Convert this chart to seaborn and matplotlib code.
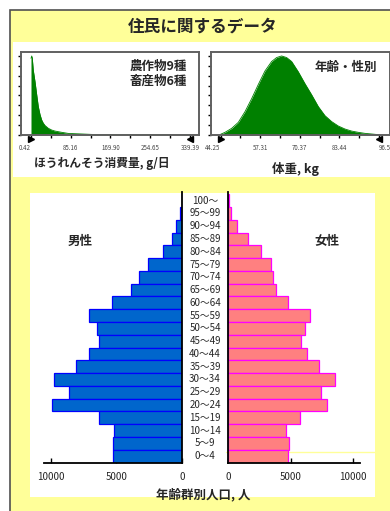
import numpy as np
import seaborn as sns
import matplotlib.pyplot as plt
from matplotlib.patches import Rectangle
from matplotlib.lines import Line2D
from matplotlib import transforms

# spinach intake curve (g/day), relative height
spin_x = [0.42, 2.0, 3.2, 5.3, 9.0, 12.6, 16.0, 19.6, 23.2, 26.6, 30.3, 37.3,
          44.5, 51.6, 65.9, 80.0, 108.5, 144.0, 200.0, 339.39]
spin_y = [0.97, 1.0, 0.97, 0.82, 0.675, 0.51, 0.36, 0.26, 0.19, 0.15, 0.12, 0.085,
          0.063, 0.05, 0.034, 0.02, 0.013, 0.004, 0.002, 0.0]
spin_ticks = [0.42, 85.16, 169.90, 254.65, 339.39]

# body weight curve (kg)
wt_x = [44.25, 45.67, 47.87, 50.07, 52.27, 54.48, 56.68, 58.88, 61.08, 62.73,
        64.38, 66.03, 67.69, 69.89, 72.09, 74.29, 76.5, 78.7, 80.9, 83.1,
        85.3, 87.5, 89.7, 91.9, 94.1, 96.56]
wt_y = [0.01, 0.034, 0.084, 0.16, 0.295, 0.46, 0.64, 0.81, 0.93, 0.98,
        1.0, 0.98, 0.93, 0.80, 0.65, 0.51, 0.36, 0.245, 0.17, 0.114,
        0.076, 0.05, 0.034, 0.021, 0.013, 0.004]
wt_ticks = [44.25, 57.31, 70.37, 83.44, 96.56]

# population pyramid, top to bottom
ages = ['100～', '95～99', '90～94', '85～89', '80～84', '75～79', '70～74',
        '65～69', '60～64', '55～59', '50～54', '45～49', '40～44', '35～39',
        '30～34', '25～29', '20～24', '15～19', '10～14', '5～9', '0～4']
male = [0, 180, 420, 780, 1420, 2620, 3300, 3870, 5320, 7120, 6490,
        6310, 7070, 8110, 9770, 8620, 9940, 6310, 5170, 5260, 5240]
female = [60, 230, 700, 1560, 2610, 3450, 3580, 3820, 4810, 6560, 6180,
          5860, 6310, 7250, 8540, 7420, 7950, 5720, 4650, 4890, 4810]

sns.set_theme(style='white')
plt.rcParams['font.family'] = ['Noto Sans CJK JP', 'DejaVu Sans']

W, H = 390, 511
fig = plt.figure(figsize=(W / 100, H / 100), dpi=100, facecolor='white')


def box(x0, y0, x1, y1):
    return [x0 / W, 1 - y1 / H, (x1 - x0) / W, (y1 - y0) / H]


def fx(x):
    return x / W


def fy(y):
    return 1 - y / H


yellow = '#FFFF99'
green = '#008000'

# background panels
fig.add_artist(Rectangle((fx(9.5), fy(530)), fx(400), fy(10) - fy(530),
                         transform=fig.transFigure, facecolor=yellow,
                         edgecolor='#505050', lw=1.2, zorder=-3))
fig.add_artist(Rectangle((fx(13), fy(177.5)), fx(395 - 13), fy(42) - fy(177.5),
                         transform=fig.transFigure, facecolor='white',
                         edgecolor='none', zorder=-2))
fig.add_artist(Rectangle((fx(30), fy(497)), fx(375 - 30), fy(193) - fy(497),
                         transform=fig.transFigure, facecolor='white',
                         edgecolor='none', zorder=-2))
fig.add_artist(Line2D([fx(226), fx(375)], [fy(452), fy(452)],
                      transform=fig.transFigure, color=yellow, lw=1, zorder=-1))

fig.text(fx(203), fy(27), '住民に関するデータ', ha='center', va='center',
         fontsize=12, fontweight='bold')


def hist_panel(ax, xs, ys, ticks, xlim, last_ha='left'):
    sns.lineplot(x=xs, y=ys, ax=ax, color=green, lw=0.6)
    ax.fill_between(xs, ys, color=green, lw=0)
    ax.set_xlim(xlim)
    ax.set_ylim(0, 1.05)
    ax.set_xticks(ticks)
    ax.set_xticklabels([f'{t:.2f}' for t in ticks])
    mids = [(a + b) / 2 for a, b in zip(ticks[:-1], ticks[1:])]
    ax.set_xticks(mids, minor=True)
    ax.set_yticks(np.linspace(0, 1, 9))
    ax.set_yticklabels([])
    ax.tick_params(axis='x', which='both', direction='out', length=2.5,
                   width=1, color='black', pad=4, labelsize=4.4,
                   labelcolor='#444444', bottom=True)
    ax.tick_params(axis='y', direction='out', length=2, width=1,
                   color='black', left=True)
    labels = ax.get_xticklabels()
    labels[0].set_ha('right')
    labels[-1].set_ha(last_ha)
    ax.set_facecolor('white')
    for s in ax.spines.values():
        s.set_color('#606060')
        s.set_linewidth(1.4)
    tr = transforms.blended_transform_factory(ax.transData, ax.transAxes)
    ax.plot([ticks[0]], [-0.05], marker='>', color='black', ms=4,
            transform=tr, clip_on=False)
    ax.plot([ticks[-1]], [-0.05], marker='<', color='black', ms=4,
            transform=tr, clip_on=False)


ax_s = fig.add_axes(box(21, 52, 199, 135))
hist_panel(ax_s, spin_x, spin_y, spin_ticks, (-20.9, 358.6), last_ha='center')
ax_s.text(0.93, 0.83, '農作物9種', transform=ax_s.transAxes, ha='right',
          va='center', fontsize=9, fontweight='bold')
ax_s.text(0.93, 0.65, '畜産物6種', transform=ax_s.transAxes, ha='right',
          va='center', fontsize=9, fontweight='bold')

ax_w = fig.add_axes(box(211, 52, 390, 135))
hist_panel(ax_w, wt_x, wt_y, wt_ticks, (41.05, 100.19))
ax_w.text(fx(377), fy(67), '年齢・性別', transform=fig.transFigure,
          ha='right', va='center', fontsize=9, fontweight='bold')

fig.text(fx(102), fy(163), 'ほうれんそう消費量, g/日', ha='center', va='center',
         fontsize=8.5, fontweight='bold')
fig.text(fx(296), fy(169), '体重, kg', ha='center', va='center',
         fontsize=9, fontweight='bold')

# population pyramid
ax_m = fig.add_axes(box(44, 192, 182, 462.5))
ax_f = fig.add_axes(box(228, 192, 360, 462.5))

sns.barplot(x=male, y=ages, orient='h', ax=ax_m, color='#0066CC',
            saturation=1, edgecolor='#0000FF', linewidth=0.9, width=1.0)
sns.barplot(x=female, y=ages, orient='h', ax=ax_f, color='#FF8080',
            saturation=1, edgecolor='#FF00FF', linewidth=0.9, width=1.0)

ax_m.set_xlim(10534, 0)
ax_f.set_xlim(0, 10560)
for ax in (ax_m, ax_f):
    ax.set_ylim(20.5, -0.68)
    ax.set_yticks([])
    ax.set_ylabel('')
    ax.set_xlabel('')
    ax.set_facecolor('none')
    ax.set_xticks([0, 5000, 10000])
    ax.set_xticklabels(['0', '5000', '10000'])
    ax.tick_params(axis='x', direction='in', length=3.5, width=1,
                   color='black', pad=7, labelsize=7, bottom=True)
    for s in ax.spines.values():
        s.set_color('black')
        s.set_linewidth(1.3)
ax_m.spines['left'].set_visible(False)
ax_m.spines['top'].set_visible(False)
ax_f.spines['right'].set_visible(False)
ax_f.spines['top'].set_visible(False)

tr = transforms.blended_transform_factory(fig.transFigure, ax_m.transData)
for i, a in enumerate(ages):
    fig.text(fx(205), i, a, transform=tr, ha='center', va='center', fontsize=7)

fig.text(fx(80), fy(241), '男性', ha='center', va='center', fontsize=9,
         fontweight='bold')
fig.text(fx(327), fy(241), '女性', ha='center', va='center', fontsize=9,
         fontweight='bold')
fig.text(fx(203), fy(495), '年齢群別人口, 人', ha='center', va='center',
         fontsize=9, fontweight='bold')

fig.savefig('out.png', dpi=100, facecolor='white')
